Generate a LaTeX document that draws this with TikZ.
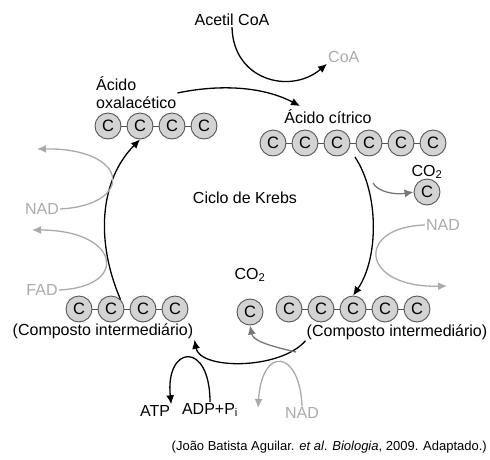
\documentclass[tikz,border=0pt]{standalone}
\usepackage{fontspec}
\setmainfont{Liberation Sans}
\usetikzlibrary{arrows.meta,positioning,calc}
\definecolor{lightgr}{HTML}{AAAAAA}
\definecolor{midgr}{HTML}{777777}
\definecolor{carbfill}{HTML}{D3D3D3}
\definecolor{carbdraw}{HTML}{555555}

\begin{document}
\begin{tikzpicture}[
    x=1pt, y=-1pt,
    >={Latex[length=9pt,width=8pt]},
    carbon/.style={circle, draw=carbdraw, fill=carbfill, line width=0.9pt, minimum size=26pt, inner sep=0pt, font=\fontsize{16.5}{16}\selectfont},
    bond/.style={draw=carbdraw, line width=0.9pt},
    label/.style={font=\fontsize{16}{18}\selectfont, inner sep=1pt},
    faint/.style={label, text=lightgr},
    arrow/.style={->, line width=1.3pt},
    grayarrow/.style={->, line width=1.3pt, draw=midgr},
    lightarrow/.style={->, line width=1.3pt, draw=lightgr}
]
\useasboundingbox (0,0) rectangle (490,459);

% labels
\node[label] (acetil) at (232,20) {Acetil CoA};
\node[faint, anchor=west] (coa) at (327,57) {CoA};
\node[label, anchor=west, align=left] (oxatext) at (95,93) {Ácido\\oxalacético};
\node[label] (cittext) at (328,117) {Ácido cítrico};
\node[label] (krebs) at (245,198) {Ciclo de Krebs};
\node[label] (co2atext) at (427,172) {CO\textsubscript{2}};
\node[label] (co2btext) at (250,275) {CO\textsubscript{2}};
\node[label] (intatext) at (103,331) {(Composto intermediário)};
\node[label] (intbtext) at (397,332) {(Composto intermediário)};
\node[faint] (nadl) at (42,209) {NAD};
\node[faint] (fad) at (42,290) {FAD};
\node[faint] (nadr) at (443,225) {NAD};
\node[faint] (nadb) at (302,413) {NAD};
\node[label] (atp) at (155,411) {ATP};
\node[label] (adp) at (210,410) {ADP+P\textsubscript{i}};
\node[font=\fontsize{13}{15}\selectfont, anchor=east, inner sep=0pt] (fonte) at (487,447)
    {(João Batista Aguilar. \textit{et al}. \textit{Biologia}, 2009. Adaptado.)};

% carbon chains
\foreach \i/\x in {1/108,2/140,3/172,4/204}
    \node[carbon] (oxa\i) at (\x,126) {C};
\foreach \i/\x in {1/273,2/305,3/337,4/369,5/401,6/433}
    \node[carbon] (cit\i) at (\x,143) {C};
\foreach \i/\x in {1/79,2/111,3/143,4/175}
    \node[carbon] (inta\i) at (\x,309) {C};
\foreach \i/\x in {1/289,2/321,3/353,4/385,5/417}
    \node[carbon] (intb\i) at (\x,309) {C};
\node[carbon] (co2a) at (427,192) {C};
\node[carbon] (co2b) at (250,312) {C};

\foreach \a/\b in {1/2,2/3,3/4}
    \draw[bond] (oxa\a) -- (oxa\b);
\foreach \a/\b in {1/2,2/3,3/4,4/5,5/6}
    \draw[bond] (cit\a) -- (cit\b);
\foreach \a/\b in {1/2,2/3,3/4}
    \draw[bond] (inta\a) -- (inta\b);
\foreach \a/\b in {1/2,2/3,3/4,4/5}
    \draw[bond] (intb\a) -- (intb\b);

% free ends on the cycle
\coordinate (citend) at (300,106);
\coordinate (citstart) at (355,157);
\coordinate (branchco2a) at (373,183);
\coordinate (branchco2b) at (296,352);

% cycle
\draw[arrow] (oxatext.east) .. controls (215,85) and (260,85) .. (citend);
\draw[arrow] (acetil.south) .. controls (233,80) and (290,95) .. (coa.south west);
\draw[arrow] (citstart) .. controls (380,195) and (378,260) .. (intb3.north);
\draw[arrow] (intbtext.south west) .. controls (280,370) and (200,370) .. (intatext.south east);
\draw[arrow] (inta2.north east) .. controls (95,240) and (100,180) .. (oxa2.south);

% side products
\draw[grayarrow] (branchco2a) .. controls (378,192) and (395,195) .. (co2a.west);
\draw[grayarrow] (branchco2b) .. controls (265,345) and (253,340) .. (co2b.south);
\draw[lightarrow] (nadr.west) .. controls (355,227) and (360,288) .. (447,286);
\draw[lightarrow] (nadb.north) .. controls (300,350) and (262,345) .. (258,408);
\draw[lightarrow] (nadl.east) .. controls (135,205) and (130,148) .. (37,149);
\draw[lightarrow] (fad.east) .. controls (130,287) and (120,230) .. (32,230);
\draw[arrow] (adp.north) .. controls (210,340) and (165,345) .. (atp.north east);

\end{tikzpicture}
\end{document}
